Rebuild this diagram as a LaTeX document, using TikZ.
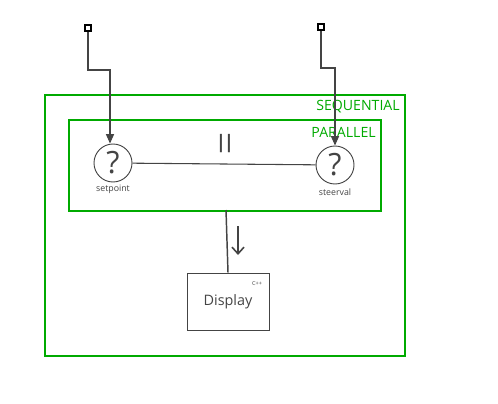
\documentclass[tikz,border=0pt]{standalone}
\usepackage{fontspec}
\setmainfont{Open Sans}
\usetikzlibrary{arrows.meta}
\definecolor{grn}{HTML}{00AA00}
\definecolor{dk}{HTML}{444444}
\tikzset{
  grp/.style={draw=grn, line width=1.5pt},
  grplabel/.style={text=grn, font=\fontsize{10.6}{12}\selectfont, inner sep=0pt, anchor=east},
  opnode/.style={circle, draw=dk, line width=0.7pt, minimum size=28.5pt, inner sep=0pt, font=\fontsize{23}{26}\selectfont, text=dk},
  sublabel/.style={font=\fontsize{6.6}{8}\selectfont, text=dk, inner sep=0pt},
  port/.style={draw=black, line width=1.3pt, fill=white, minimum size=4.5pt, inner sep=0pt},
  conn/.style={draw=dk, line width=0.8pt},
  arr/.style={conn, -{Triangle[length=7pt,width=6pt]}},
  box/.style={draw=dk, line width=0.7pt, minimum width=61.5pt, minimum height=42.75pt, inner sep=0pt, font=\fontsize{10.8}{13}\selectfont, text=dk}
}
\begin{document}
\begin{tikzpicture}[x=0.75pt,y=-0.75pt]
\useasboundingbox (0,0) rectangle (498,403);
\node[grp, minimum width=270pt, minimum height=195.75pt, inner sep=0pt, anchor=north west] (seq) at (44,94) {};
\node[grplabel] (seqlab) at (400,107) {SEQUENTIAL};
\node[grp, minimum width=234pt, minimum height=68.25pt, inner sep=0pt, anchor=north west] (par) at (68,119) {};
\node[grplabel] (parlab) at (376,132) {PARALLEL};
\node[opnode] (sp) at (113,163) {?};
\node[sublabel] (splab) at (113,189) {setpoint};
\node[opnode] (sv) at (335,165) {?};
\node[sublabel] (svlab) at (335,192) {steerval};
\draw[conn] (sp) -- (sv);
\node[font=\bfseries\fontsize{14}{16}\selectfont, text=dk, inner sep=0pt] (par2) at (225,144) {|\kern-1.6pt|};
\node[port] (p1) at (88,28) {};
\node[port] (p2) at (321,27) {};
\coordinate (b1) at (88,70);
\coordinate (b2) at (110,70);
\draw[arr] (p1.south) -- (b1) -- (b2) -- (sp.north -| b2);
\coordinate (c1) at (321,68);
\coordinate (c2) at (335,68);
\draw[arr] (p2.south) -- (c1) -- (c2) -- (sv.north);
\node[box] (disp) at (228,301.5) {Display};
\node[font=\fontsize{4.2}{5}\selectfont, text=dk, inner sep=0pt] (cpp) at (257,283) {C++};
\coordinate (pb) at (226,210);
\draw[conn, line width=1.1pt] (pb) -- (disp.north);
\coordinate (a1) at (238,226);
\coordinate (a2) at (238,255);
\draw[draw=dk, line width=1.2pt, -{Straight Barb[length=5pt,width=9pt]}] (a1) -- (a2);
\end{tikzpicture}
\end{document}
